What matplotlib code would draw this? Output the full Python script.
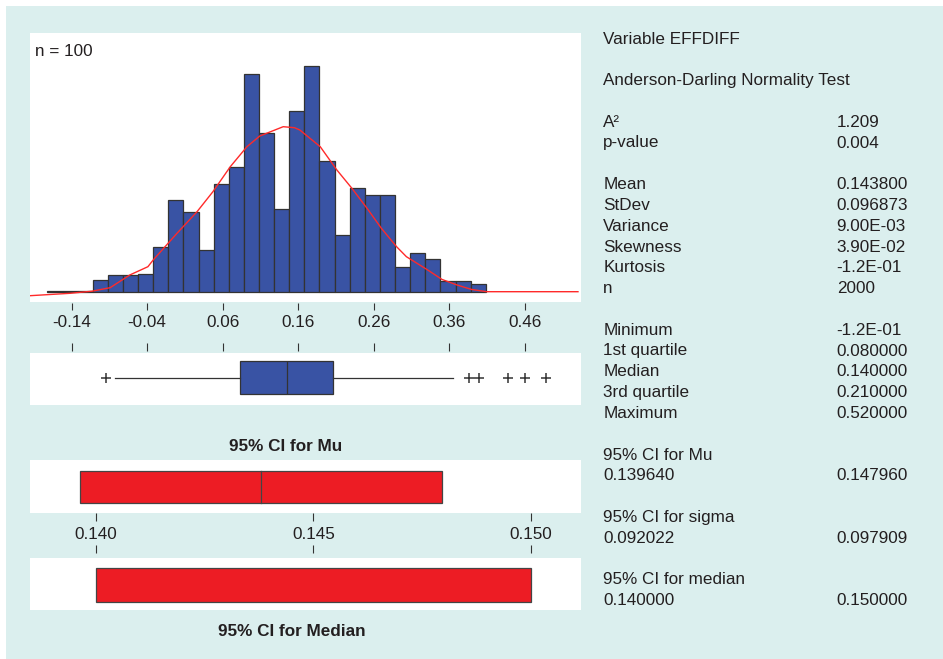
import matplotlib
matplotlib.use("Agg")
import matplotlib.pyplot as plt
from matplotlib.patches import Rectangle

plt.rcParams['font.family'] = ['Liberation Sans', 'DejaVu Sans']

# data
bin_start = -0.172
bin_width = 0.02
counts = [1, 1, 1, 12, 17, 17, 18, 45, 92, 80, 42, 108, 125, 218, 159, 83,
          181, 226, 131, 57, 104, 97, 97, 25, 39, 33, 11, 11, 8]

# fitted curve
curve_x = [-0.195, -0.142, -0.113, -0.089, -0.063, -0.039, -0.032, -0.001, 0.026,
           0.047, 0.070, 0.092, 0.109, 0.140, 0.155, 0.162, 0.189, 0.211, 0.231,
           0.251, 0.270, 0.290, 0.303, 0.330, 0.350, 0.370, 0.389, 0.409, 0.530]
curve_y = [-4, -1.6, 0.5, 4, 16.7, 25, 31.7, 58, 80, 100, 125, 145, 155.7, 165,
           164, 161.7, 145, 121.7, 103.3, 83.3, 63.3, 45, 35, 22.3, 12.3, 6.7,
           2.3, 0, 0]

hist_ticks = [-0.14, -0.04, 0.06, 0.16, 0.26, 0.36, 0.46]

box_q1 = 0.083
box_med = 0.1446
box_q3 = 0.2063
box_whislo = -0.083
box_whishi = 0.364
box_fliers = [-0.095, 0.386, 0.3995, 0.438, 0.46, 0.488]

mean = 0.143800
ci_mu = (0.139640, 0.147960)
ci_median = (0.140000, 0.150000)
ci_ticks = [0.140, 0.145, 0.150]

stats_rows = [
    (0, "Variable EFFDIFF", ""),
    (2, "Anderson-Darling Normality Test", ""),
    (4, "A\u00b2", "1.209"),
    (5, "p-value", "0.004"),
    (7, "Mean", "0.143800"),
    (8, "StDev", "0.096873"),
    (9, "Variance", "9.00E-03"),
    (10, "Skewness", "3.90E-02"),
    (11, "Kurtosis", "-1.2E-01"),
    (12, "n", "2000"),
    (14, "Minimum", "-1.2E-01"),
    (15, "1st quartile", "0.080000"),
    (16, "Median", "0.140000"),
    (17, "3rd quartile", "0.210000"),
    (18, "Maximum", "0.520000"),
    (20, "95% CI for Mu", ""),
    (21, "0.139640", "0.147960"),
    (23, "95% CI for sigma", ""),
    (24, "0.092022", "0.097909"),
    (26, "95% CI for median", ""),
    (27, "0.140000", "0.150000"),
]

W, H = 943, 659
BG = '#dbefee'
BLUE = '#3953a4'
RED = '#ed1c24'
EDGE = '#333333'
TXT = '#231f20'
FS = 12.3


def px_rect(x0, y0, x1, y1):
    return [x0 / W, 1 - y1 / H, (x1 - x0) / W, (y1 - y0) / H]


def clean(ax):
    for s in ax.spines.values():
        s.set_color('none')
    ax.set_yticks([])
    ax.tick_params(colors=EDGE, labelcolor=TXT, labelsize=FS, width=0.8)


fig = plt.figure(figsize=(W / 100, H / 100), dpi=100, facecolor='white')
fig.patches.append(Rectangle((6 / W, 0), 1, 1 - 6 / H, transform=fig.transFigure,
                             facecolor=BG, edgecolor='none', zorder=-10))

xlim_top = (-0.195, 0.534)

# histogram
ax = fig.add_axes(px_rect(30, 33, 581, 302))
edges = [bin_start + i * bin_width for i in range(len(counts))]
ax.bar(edges, counts, width=bin_width, align='edge', color=BLUE,
       edgecolor=EDGE, linewidth=0.9)
ax.plot(curve_x, curve_y, color='#ff2a2a', linewidth=1)
ax.set_xlim(xlim_top)
ax.set_ylim(-10.3, 258.7)
clean(ax)
ax.spines['bottom'].set_position(('outward', 0.7))
ax.set_xticks(hist_ticks)
ax.set_xticklabels(['%.2f' % t for t in hist_ticks])
ax.tick_params(axis='x', direction='out', length=4.8, pad=4)
ax.text(0.009, 0.93, "n = 100", transform=ax.transAxes, fontsize=FS,
        color=TXT, va='center', ha='left')

# boxplot
axb = fig.add_axes(px_rect(30, 352.7, 581, 405))
axb.bxp([{'med': box_med, 'q1': box_q1, 'q3': box_q3, 'whislo': box_whislo,
          'whishi': box_whishi, 'fliers': box_fliers}],
        positions=[0.52], widths=0.63, orientation='horizontal',
        patch_artist=True, showcaps=False,
        boxprops=dict(facecolor=BLUE, edgecolor=EDGE, linewidth=0.9),
        medianprops=dict(color=EDGE, linewidth=0.9),
        whiskerprops=dict(color=EDGE, linewidth=0.9),
        flierprops=dict(marker='+', markersize=7, markeredgecolor=EDGE,
                        markeredgewidth=1.1, linestyle='none'))
axb.set_xlim(xlim_top)
axb.set_ylim(0, 1)
clean(axb)
axb.spines['top'].set_position(('outward', 1.5))
axb.set_xticks(hist_ticks)
axb.tick_params(axis='x', top=True, bottom=False, labeltop=False,
                labelbottom=False, direction='out', length=6)

fig.text(285.3 / W, 1 - 446.7 / H, "95% CI for Mu", fontsize=FS,
         fontweight='bold', color=TXT, ha='center', va='center')

xlim_ci = (0.138482, 0.151157)

# CI for mu
axm = fig.add_axes(px_rect(30, 460, 581, 512.7))
axm.barh(0.4935, ci_mu[1] - ci_mu[0], left=ci_mu[0], height=0.607,
         color=RED, edgecolor='#444444', linewidth=0.9)
axm.plot([mean, mean], [0.19, 0.797], color='#444444', linewidth=0.9)
axm.set_xlim(xlim_ci)
axm.set_ylim(0, 1)
clean(axm)
axm.spines['bottom'].set_position(('outward', 0.5))
axm.set_xticks(ci_ticks)
axm.set_xticklabels(['%.3f' % t for t in ci_ticks])
axm.tick_params(axis='x', direction='out', length=5.5, pad=4)

# CI for median
axd = fig.add_axes(px_rect(30, 558.3, 581, 610))
axd.barh(0.4835, ci_median[1] - ci_median[0], left=ci_median[0], height=0.669,
         color=RED, edgecolor='#444444', linewidth=0.9)
axd.set_xlim(xlim_ci)
axd.set_ylim(0, 1)
clean(axd)
axd.spines['top'].set_position(('outward', 3.6))
axd.set_xticks(ci_ticks)
axd.tick_params(axis='x', top=True, bottom=False, labeltop=False,
                labelbottom=False, direction='out', length=6)

fig.text(292 / W, 1 - 631 / H, "95% CI for Median", fontsize=FS,
         fontweight='bold', color=TXT, ha='center', va='center')

# statistics text
for idx, label, value in stats_rows:
    y = 1 - (39 + idx * 20.8) / H
    fig.text(603.3 / W, y, label, fontsize=FS, color=TXT, ha='left', va='center')
    if value:
        fig.text(836.7 / W, y, value, fontsize=FS, color=TXT, ha='left', va='center')

fig.savefig("out.png", dpi=100, facecolor=fig.get_facecolor())
